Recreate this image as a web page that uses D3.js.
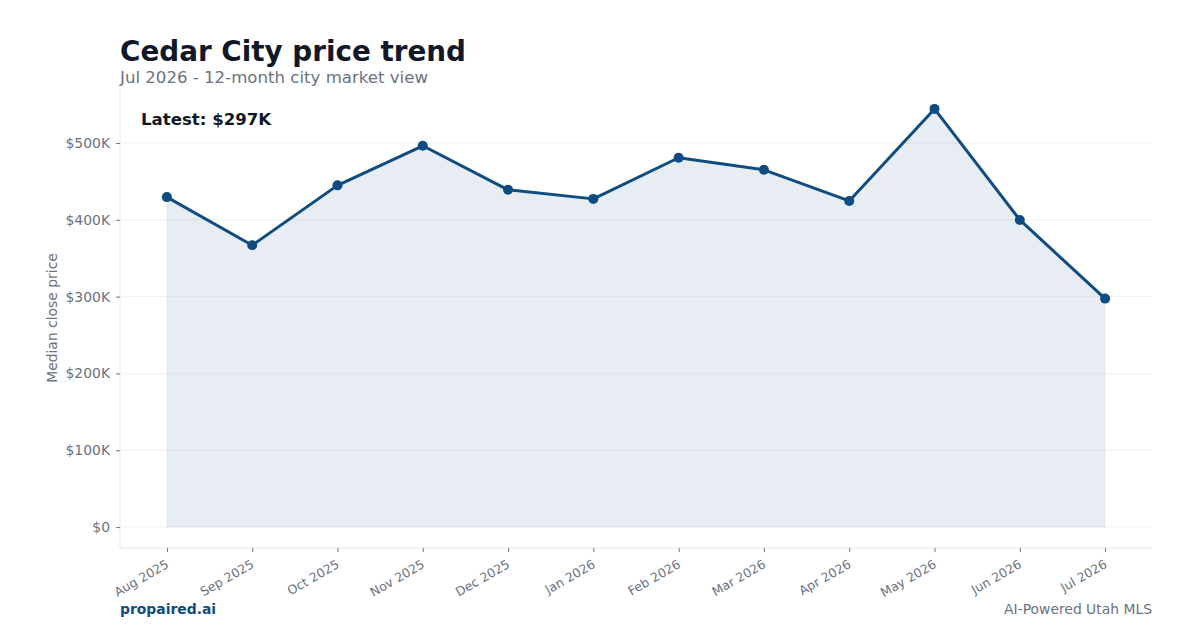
<!DOCTYPE html>
<html><head><meta charset="utf-8">
<script src="https://cdn.jsdelivr.net/npm/d3@7"></script>
<style>body{margin:0;background:#fff}svg{display:block;font-family:"DejaVu Sans",sans-serif}</style>
</head><body><svg id="c" width="1200" height="630"></svg>
<script>
const months = ["Aug 2025","Sep 2025","Oct 2025","Nov 2025","Dec 2025","Jan 2026","Feb 2026","Mar 2026","Apr 2026","May 2026","Jun 2026","Jul 2026"];
const prices = [429500, 366800, 444800, 496300, 439000, 427200, 480700, 465000, 424500, 544300, 399800, 297400];
const yTicks = [0, 100000, 200000, 300000, 400000, 500000];
const yTickLabels = ["$0","$100K","$200K","$300K","$400K","$500K"];

const svg = d3.select("#c");
const L = 120, R = 1152, T = 88, B = 548;
const lineColor = "#0f4c81";
const maxV = d3.max(prices);
const x = d3.scaleLinear().domain([-0.55, months.length - 1 + 0.55]).range([L, R]);
const y = d3.scaleLinear().domain([-maxV * 0.05, maxV * 1.05]).range([B, T]);

// grid
svg.append("g").selectAll("line").data(yTicks).join("line")
  .attr("x1", L).attr("x2", R).attr("y1", d => y(d)).attr("y2", d => y(d))
  .attr("stroke", "#f1f2f4").attr("stroke-width", 1);

// area
const area = d3.area().x((d, i) => x(i)).y0(y(0)).y1(d => y(d));
svg.append("path").datum(prices).attr("d", area)
  .attr("fill", lineColor).attr("fill-opacity", 0.1)
  .attr("stroke", lineColor).attr("stroke-opacity", 0.06).attr("stroke-width", 1);

// spines
svg.append("line").attr("x1", L).attr("x2", L).attr("y1", T).attr("y2", B).attr("stroke", "#e5e7eb");
svg.append("line").attr("x1", L).attr("x2", R).attr("y1", B).attr("y2", B).attr("stroke", "#e5e7eb");

// y axis
const yAxis = d3.axisLeft(y).tickValues(yTicks).tickFormat((d, i) => yTickLabels[i]).tickSize(4).tickPadding(6);
const gy = svg.append("g").attr("transform", `translate(${L},0)`).call(yAxis);
gy.select(".domain").remove();
gy.selectAll(".tick line").attr("stroke", "#6b7280");
gy.selectAll("text").attr("fill", "#6b7280").style("font-size", "13.9px").style("font-family", "DejaVu Sans");

// x axis
const xAxis = d3.axisBottom(x).tickValues(d3.range(months.length)).tickFormat(i => months[i]).tickSize(4).tickPadding(4);
const gx = svg.append("g").attr("transform", `translate(0,${B})`).call(xAxis);
gx.select(".domain").remove();
gx.selectAll(".tick line").attr("stroke", "#6b7280");
gx.selectAll("text").attr("fill", "#6b7280").style("font-size", "12.5px").style("font-family", "DejaVu Sans")
  .attr("text-anchor", "end").attr("dy", "0.35em")
  .attr("transform", "translate(0,15) rotate(-30)").attr("y", 0).attr("x", 0);

// line
const line = d3.line().x((d, i) => x(i)).y(d => y(d));
svg.append("path").datum(prices).attr("d", line)
  .attr("fill", "none").attr("stroke", lineColor).attr("stroke-width", 3).attr("stroke-linejoin", "round");
svg.append("g").selectAll("circle").data(prices).join("circle")
  .attr("cx", (d, i) => x(i)).attr("cy", d => y(d)).attr("r", 5).attr("fill", lineColor);

// y label
svg.append("text").attr("transform", `translate(57,${(T + B) / 2}) rotate(-90)`)
  .attr("text-anchor", "middle").attr("fill", "#6b7280").style("font-size", "13.9px").text("Median close price");

// titles
svg.append("text").attr("x", 120).attr("y", 61).attr("fill", "#111827")
  .style("font-size", "27.8px").style("font-weight", "bold").text("Cedar City price trend");
svg.append("text").attr("x", 120).attr("y", 83).attr("fill", "#6b7280")
  .style("font-size", "16.6px").text("Jul 2026 - 12-month city market view");
svg.append("text").attr("x", 141).attr("y", 125).attr("fill", "#111827")
  .style("font-size", "16.6px").style("font-weight", "bold").text("Latest: $" + Math.round(prices[prices.length - 1] / 1000) + "K");

// footer
svg.append("text").attr("x", 120).attr("y", 614).attr("fill", lineColor)
  .style("font-size", "13.9px").style("font-weight", "bold").text("propaired.ai");
svg.append("text").attr("x", 1152).attr("y", 614).attr("fill", "#6b7280").attr("text-anchor", "end")
  .style("font-size", "13.9px").text("AI-Powered Utah MLS");
</script></body></html>
